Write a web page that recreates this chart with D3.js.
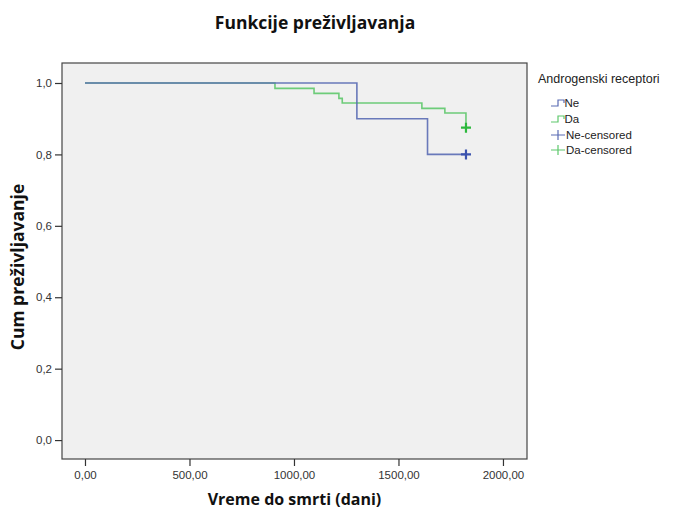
<!DOCTYPE html>
<html>
<head>
<meta charset="utf-8">
<script src="https://cdn.jsdelivr.net/npm/d3@7"></script>
<style>
  html, body { margin: 0; padding: 0; background: #ffffff; }
  svg { display: block; }
</style>
</head>
<body>
<svg id="chart" width="686" height="513"></svg>
<script>
// Kaplan-Meier step estimates per group (time in days, cumulative survival)
const groups = ["Ne", "Da"];
const neTimes = [0, 1301, 1639, 1823];
const neSurv  = [1.0, 0.90, 0.80, 0.80];
const daTimes = [0, 909, 1096, 1215, 1231, 1612, 1722, 1823];
const daSurv  = [1.0, 0.985, 0.971, 0.957, 0.944, 0.929, 0.916, 0.875];
// censored observations
const neCensTimes = [1823];
const neCensSurv  = [0.80];
const daCensTimes = [1823];
const daCensSurv  = [0.875];

const xTicks = [0, 500, 1000, 1500, 2000];
const yTicks = [0, 0.2, 0.4, 0.6, 0.8, 1.0];
const legendLabels = ["Ne", "Da", "Ne-censored", "Da-censored"];

const lineColor = { Ne: "#5a6cb4", Da: "#5ec86c" };
const markColor = { Ne: "#3b52ae", Da: "#2cb83c" };

const svg = d3.select("#chart");
const plot = { left: 62, top: 63, right: 527, bottom: 459 };

const x = d3.scaleLinear().domain([-110, 2115]).range([plot.left, plot.right]);
const y = d3.scaleLinear().domain([-0.053, 1.056]).range([plot.bottom, plot.top]);

// plot area
svg.append("rect")
  .attr("x", plot.left).attr("y", plot.top)
  .attr("width", plot.right - plot.left).attr("height", plot.bottom - plot.top)
  .attr("fill", "#f0f0f0").attr("stroke", "#454545").attr("stroke-width", 1.2);

const fmtX = d => d3.format(".2f")(d).replace(".", ",");
const fmtY = d => d3.format(".1f")(d).replace(".", ",");

// axes
const xAxis = d3.axisBottom(x).tickValues(xTicks).tickSize(7).tickPadding(5).tickFormat(fmtX);
const yAxis = d3.axisLeft(y).tickValues(yTicks).tickSize(7).tickPadding(3).tickFormat(fmtY);

const gx = svg.append("g").attr("transform", `translate(0,${plot.bottom})`).call(xAxis);
const gy = svg.append("g").attr("transform", `translate(${plot.left},0)`).call(yAxis);
[gx, gy].forEach(g => {
  g.select(".domain").remove();
  g.selectAll("line").attr("stroke", "#333").attr("stroke-width", 1.2);
  g.selectAll("text").attr("fill", "#333").style("font-family", "'Liberation Sans', Arial, sans-serif").style("font-size", "11.5px");
});

// survival curves
const line = d3.line().x(d => x(d[0])).y(d => y(d[1])).curve(d3.curveStepAfter);
const series = {
  Ne: d3.zip(neTimes, neSurv),
  Da: d3.zip(daTimes, daSurv)
};
const censored = {
  Ne: d3.zip(neCensTimes, neCensSurv),
  Da: d3.zip(daCensTimes, daCensSurv)
};

groups.slice().reverse().forEach(g => {
  svg.append("path")
    .datum(series[g])
    .attr("fill", "none")
    .attr("stroke", lineColor[g])
    .attr("stroke-width", 1.6)
    .attr("stroke-opacity", 0.9)
    .attr("d", line);
});

// censoring crosses
groups.forEach(g => {
  censored[g].forEach(([t, s]) => {
    const cx = x(t), cy = y(s);
    svg.append("path")
      .attr("d", `M${cx - 5},${cy}H${cx + 5}M${cx},${cy - 5}V${cy + 5}`)
      .attr("stroke", markColor[g]).attr("stroke-width", 2.2).attr("fill", "none");
  });
});

// titles
const boldFont = "'Open Sans', sans-serif";
svg.append("text")
  .attr("x", 315).attr("y", 29)
  .attr("text-anchor", "middle")
  .style("font-family", boldFont).style("font-weight", 700).style("font-size", "17.5px")
  .attr("fill", "#111")
  .text("Funkcije preživljavanja");

svg.append("text")
  .attr("x", (plot.left + plot.right) / 2).attr("y", 505)
  .attr("text-anchor", "middle")
  .style("font-family", boldFont).style("font-weight", 700).style("font-size", "16px")
  .attr("fill", "#111")
  .text("Vreme do smrti (dani)");

svg.append("text")
  .attr("transform", `translate(24,${(plot.top + plot.bottom) / 2 + 6}) rotate(-90)`)
  .attr("text-anchor", "middle")
  .style("font-family", boldFont).style("font-weight", 700).style("font-size", "17.5px")
  .attr("fill", "#111")
  .text("Cum preživljavanje");

// legend
const lg = svg.append("g").style("font-family", "'Liberation Sans', Arial, sans-serif");
lg.append("text").attr("x", 538).attr("y", 83).style("font-size", "12.5px").attr("fill", "#222")
  .text("Androgenski receptori");

const rowY = [103, 119, 135, 150];
legendLabels.forEach((lab, i) => {
  const g = groups[i % 2];
  const yy = rowY[i];
  if (i < 2) {
    lg.append("path")
      .attr("d", `M551,${yy + 3}H558V${yy - 3}H564V${yy}`)
      .attr("fill", "none").attr("stroke", lineColor[g]).attr("stroke-width", 1.2);
    lg.append("text").attr("x", 564.5).attr("y", yy + 4).style("font-size", "11.5px").attr("fill", "#222").text(lab);
  } else {
    lg.append("path")
      .attr("d", `M551,${yy}H565M558,${yy - 5}V${yy + 5}`)
      .attr("fill", "none").attr("stroke", lineColor[g]).attr("stroke-width", 1.2);
    lg.append("text").attr("x", 566).attr("y", yy + 4).style("font-size", "11.5px").attr("fill", "#222").text(lab);
  }
});
</script>
</body>
</html>
